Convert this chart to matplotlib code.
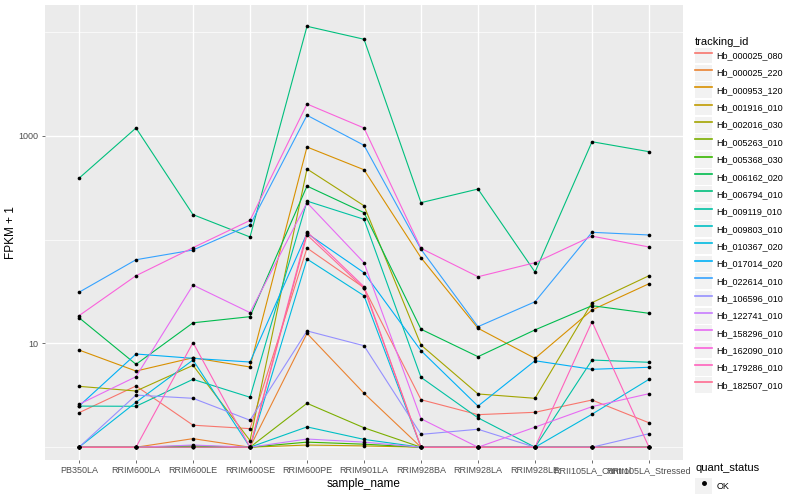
# FPKM profiles across samples, ggplot-like look

import numpy as np
import matplotlib.pyplot as plt
from matplotlib.patches import Rectangle
from matplotlib.lines import Line2D
from matplotlib.legend_handler import HandlerLine2D

plt.rcParams['font.family'] = ['Liberation Sans', 'DejaVu Sans']

# DATA (FPKM + 1)
samples = ['PB350LA', 'RRIM600LA', 'RRIM600LE', 'RRIM600SE', 'RRIM600PE', 'RRIM901LA',
           'RRIM928BA', 'RRIM928LA', 'RRIM928LE', 'RRII105LA_Control', 'RRII105LA_Stressed']

tracking_ids = ['Hb_000025_080', 'Hb_000025_220', 'Hb_000953_120', 'Hb_001916_010',
                'Hb_002016_030', 'Hb_005263_010', 'Hb_005368_030', 'Hb_006162_020',
                'Hb_006794_010', 'Hb_009119_010', 'Hb_009803_010', 'Hb_010367_020',
                'Hb_017014_020', 'Hb_022614_010', 'Hb_106596_010', 'Hb_122741_010',
                'Hb_158296_010', 'Hb_162090_010', 'Hb_179286_010', 'Hb_182507_010']

hb_000025_080 = [2.15, 3.89, 1.63, 1.51, 83.0, 34.4, 2.87, 2.06, 2.17, 2.85, 1.72]
hb_000025_220 = [1, 1, 1.21, 1, 12.5, 3.31, 1, 1, 1, 1, 1]
hb_000953_120 = [8.64, 5.42, 7.28, 5.93, 780, 471, 66.9, 14.0, 7.18, 21.0, 37.6]
hb_001916_010 = [1, 1, 1.02, 1, 1.05, 1.03, 1, 1, 1, 1, 1]
hb_002016_030 = [3.86, 3.48, 6.15, 1.16, 479, 212, 9.65, 3.26, 2.96, 24.7, 44.9]
hb_005263_010 = [1, 1, 1, 1, 2.65, 1.54, 1, 1, 1, 1, 1]
hb_005368_030 = [1, 1, 1.03, 1, 1.12, 1.07, 1, 1, 1, 1, 1]
hb_006162_020 = [17.7, 6.29, 15.8, 18.1, 328, 182, 13.7, 7.45, 13.5, 23.1, 19.5]
hb_006794_010 = [390, 1189, 174, 106, 11350, 8510, 227, 307, 48.7, 877, 703]
hb_009119_010 = [2.49, 2.48, 4.51, 3.03, 235, 157, 4.71, 1.92, 1, 6.92, 6.58]
hb_009803_010 = [1, 1, 1, 1, 1.57, 1.19, 1, 1, 1, 1, 1]
hb_010367_020 = [1, 2.71, 6.92, 1, 65.0, 28.8, 1, 1, 1, 2.08, 4.51]
hb_017014_020 = [2.49, 7.91, 7.18, 6.62, 115, 48.0, 8.51, 2.49, 6.81, 5.63, 5.89]
hb_022614_010 = [31.1, 64.0, 79.4, 138, 1577, 810, 80.7, 14.5, 25.2, 117.6, 110.8]
hb_106596_010 = [1, 3.18, 2.96, 1.82, 13.2, 9.50, 1.33, 1.49, 1, 1, 1.35]
hb_122741_010 = [1, 1, 1.05, 1, 1.20, 1.12, 1, 1, 1, 1, 1]
hb_158296_010 = [2.59, 4.78, 36.5, 19.8, 227, 59.9, 1.88, 1, 1.56, 2.46, 3.28]
hb_162090_010 = [18.5, 44.9, 83.6, 153, 2025, 1189, 82.4, 43.9, 59.9, 108, 84.9]
hb_179286_010 = [1, 1, 10.2, 1, 119, 35.2, 1, 1, 1, 16.2, 1]
hb_182507_010 = [1, 1, 1, 1, 111, 34.0, 1, 1, 1, 1, 1]

series = [hb_000025_080, hb_000025_220, hb_000953_120, hb_001916_010, hb_002016_030,
          hb_005263_010, hb_005368_030, hb_006162_020, hb_006794_010, hb_009119_010,
          hb_009803_010, hb_010367_020, hb_017014_020, hb_022614_010, hb_106596_010,
          hb_122741_010, hb_158296_010, hb_162090_010, hb_179286_010, hb_182507_010]

# ggplot default hue palette for 20 groups
colors = ['#F8766D', '#EA8331', '#D89000', '#C09B00', '#A3A500', '#7CAE00', '#39B600',
          '#00BB4E', '#00BF7D', '#00C1A3', '#00BFC4', '#00BAE0', '#00B0F6', '#35A2FF',
          '#9590FF', '#C77CFF', '#E76BF3', '#FA62DB', '#FF62BC', '#FF6C91']


class KeyHandler(HandlerLine2D):
    # grey key box behind the line, like ggplot
    def create_artists(self, legend, orig_handle, xdescent, ydescent, width, height, fontsize, trans):
        bg = Rectangle((-xdescent, -ydescent + 0.5), width, height - 1, facecolor='#F2F2F2',
                       edgecolor='none', transform=trans)
        arts = super().create_artists(legend, orig_handle, xdescent, ydescent, width, height, fontsize, trans)
        return [bg] + list(arts)


fig = plt.figure(figsize=(8, 5), dpi=100)
ax = fig.add_axes([0.056, 0.08, 0.798, 0.91])
ax.set_facecolor('#EBEBEB')

x = np.arange(len(samples))
for vals, col in zip(series, colors):
    ax.plot(x, vals, color=col, lw=0.8, zorder=2)
for vals in series:
    ax.scatter(x, vals, s=7, color='black', zorder=3, linewidths=0)

ax.set_yscale('log')
ax.set_xlim(-0.6, 10.6)
ax.set_ylim(10 ** -0.123, 10 ** 4.26)
ax.set_yticks([10, 1000])
ax.set_yticklabels(['10', '1000'])
ax.set_yticks([1, 100, 10000], minor=True)
ax.yaxis.set_minor_formatter(plt.NullFormatter())
ax.set_xticks(x)
ax.set_xticklabels(samples)

ax.grid(True, which='major', color='white', lw=1.0, zorder=0)
ax.grid(True, which='minor', axis='y', color='white', lw=0.5, zorder=0)
ax.set_axisbelow(True)
for sp in ax.spines.values():
    sp.set_visible(False)
ax.tick_params(which='major', length=2.5, width=0.5, color='#333333', labelsize=6.5,
               labelcolor='#4D4D4D', pad=2)
ax.tick_params(which='minor', length=0)

ax.set_xlabel('sample_name', fontsize=8.5, labelpad=2)
ax.set_ylabel('FPKM + 1', fontsize=8.5, labelpad=1)

handles = [Line2D([], [], color=c, lw=1.2) for c in colors]
leg = fig.legend(handles, tracking_ids, loc='upper left', bbox_to_anchor=(0.860, 0.941),
                 frameon=False, fontsize=6.5, title='tracking_id', title_fontsize=8,
                 handlelength=1.9, handleheight=2.55, labelspacing=0.02, handletextpad=0.45,
                 borderpad=0.8, borderaxespad=0, alignment='left',
                 handler_map={Line2D: KeyHandler()})

pt = Line2D([], [], color='black', marker='o', ls='none', markersize=2.5)
leg2 = fig.legend([pt], ['OK'], loc='upper left', bbox_to_anchor=(0.8634, 0.083),
                  frameon=False, fontsize=6.5, title='quant_status', title_fontsize=8,
                  handlelength=1.9, handleheight=2.55, handletextpad=0.45,
                  borderpad=0.5, borderaxespad=0, alignment='left',
                  handler_map={Line2D: KeyHandler()})

fig.savefig('out.png', dpi=100)
